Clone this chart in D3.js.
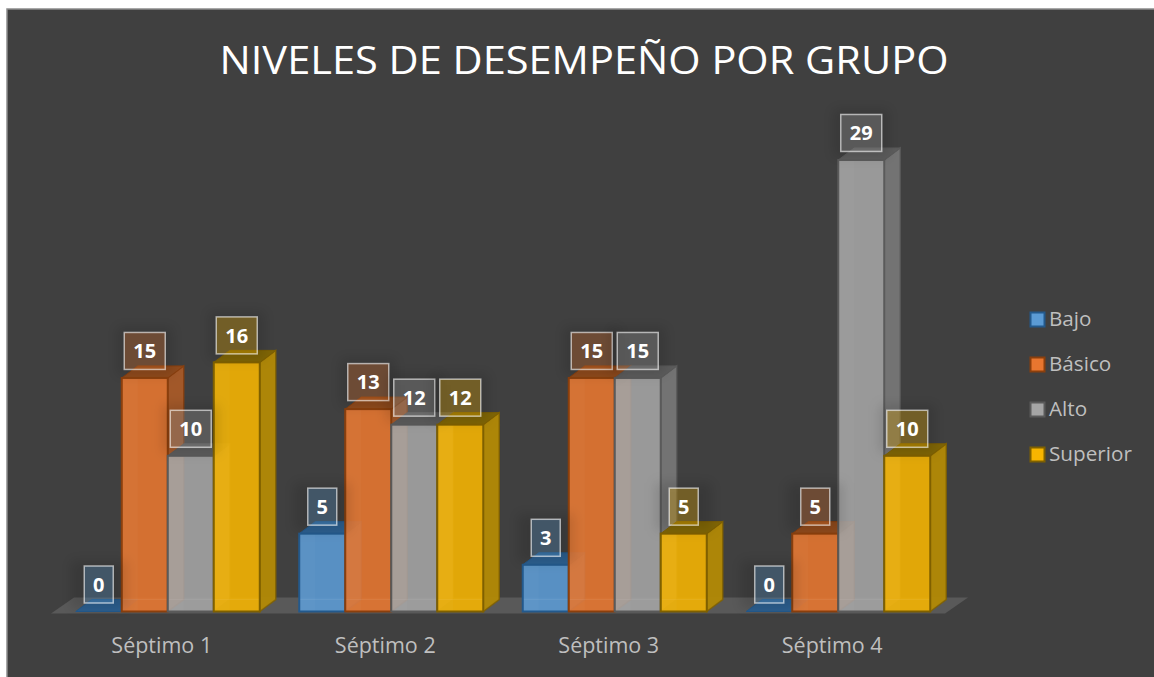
<!DOCTYPE html>
<html>
<head>
<meta charset="utf-8">
<script src="https://cdn.jsdelivr.net/npm/d3@7"></script>
<style>
  html, body { margin: 0; padding: 0; background: #fff; }
  svg { display: block; font-family: "Open Sans", sans-serif; }
</style>
</head>
<body>
<div id="chart"></div>
<script>
// Chart values
var categories = ["Séptimo 1", "Séptimo 2", "Séptimo 3", "Séptimo 4"];
var seriesNames = ["Bajo", "Básico", "Alto", "Superior"];
var bajo = [0, 5, 3, 0];
var basico = [15, 13, 15, 5];
var alto = [10, 12, 15, 29];
var superior = [16, 12, 5, 10];
var seriesValues = [bajo, basico, alto, superior];

var frontColors = ["#5b9bd5", "#e8762f", "#a5a5a5", "#f7b500"];
var sideColors = ["#3f72a0", "#a85a28", "#767676", "#b38a05"];
var topColors = ["#2c5f8f", "#8f4a1c", "#5c5c5c", "#7f6505"];
var edgeColors = ["#23598c", "#8a3f0d", "#5a5a5a", "#7f6000"];

var svgWidth = 1154;
var svgHeight = 677;
var baseline = 611.5;
var depthX = 16;
var depthY = 12;

var svg = d3
  .select("#chart")
  .append("svg")
  .attr("width", svgWidth)
  .attr("height", svgHeight);

var defs = svg.append("defs");
defs
  .append("filter")
  .attr("id", "soft")
  .attr("x", "-40%")
  .attr("y", "-40%")
  .attr("width", "180%")
  .attr("height", "180%")
  .append("feGaussianBlur")
  .attr("stdDeviation", 6);

// Background with the thin border
svg
  .append("rect")
  .attr("x", 7)
  .attr("y", 9)
  .attr("width", svgWidth)
  .attr("height", svgHeight)
  .attr("fill", "#404040")
  .attr("stroke", "#8c8c8c")
  .attr("stroke-width", 1.5);

svg
  .append("text")
  .attr("x", 584)
  .attr("y", 74)
  .attr("text-anchor", "middle")
  .attr("fill", "#ffffff")
  .attr("textLength", 729)
  .attr("lengthAdjust", "spacingAndGlyphs")
  .style("font-size", "39px")
  .text("NIVELES DE DESEMPEÑO POR GRUPO");

// Scales
var x0 = d3
  .scaleBand()
  .domain(categories)
  .range([56, 950])
  .paddingInner(0.1767)
  .paddingOuter(0.0884);

var x1 = d3
  .scaleBand()
  .domain(seriesNames)
  .range([0, x0.bandwidth()]);

var y = d3
  .scaleLinear()
  .domain([0, 30])
  .range([baseline, baseline - 30 * 15.57]);

// Floor of the 3D plot
var floorLeft = x0.range()[0];
var floorRight = x0.range()[1];
svg
  .append("polygon")
  .attr(
    "points",
    [
      [floorLeft - 5, baseline + 2],
      [floorRight - 5, baseline + 2],
      [floorRight + depthX + 2, baseline - 14],
      [floorLeft + depthX + 2, baseline - 14],
    ].join(" ")
  )
  .attr("fill", "#595959");

// Bars
var bars = [];
categories.forEach(function (cat, i) {
  seriesNames.forEach(function (name, s) {
    bars.push({ cat: cat, name: name, s: s, value: seriesValues[s][i] });
  });
});

var barGroup = svg
  .selectAll("g.bar")
  .data(bars)
  .enter()
  .append("g")
  .attr("class", "bar");

barGroup.each(function (d) {
  var g = d3.select(this);
  var left = x0(d.cat) + x1(d.name);
  var right = left + x1.bandwidth();
  var top = y(d.value);

  // right side face
  g.append("polygon")
    .attr(
      "points",
      [
        [right, baseline],
        [right + depthX, baseline - depthY],
        [right + depthX, top - depthY],
        [right, top],
      ].join(" ")
    )
    .attr("fill", sideColors[d.s])
    .attr("fill-opacity", d.value === 0 ? 0 : 0.95)
    .attr("stroke", edgeColors[d.s])
    .attr("stroke-opacity", d.value === 0 ? 0 : 0.8)
    .attr("stroke-width", 1.5);

  // top face
  g.append("polygon")
    .attr(
      "points",
      [
        [left, top],
        [right, top],
        [right + depthX, top - depthY],
        [left + depthX, top - depthY],
      ].join(" ")
    )
    .attr("fill", topColors[d.s])
    .attr("stroke", edgeColors[d.s])
    .attr("stroke-width", 1);

  if (d.value > 0) {
    // front face
    g.append("rect")
      .attr("x", left)
      .attr("y", top)
      .attr("width", right - left)
      .attr("height", baseline - top)
      .attr("fill", frontColors[d.s])
      .attr("fill-opacity", 0.88)
      .attr("stroke", edgeColors[d.s])
      .attr("stroke-width", 2);

    // the inner left strip seen through the transparent front
    g.append("rect")
      .attr("x", left + 1)
      .attr("y", top + 1)
      .attr("width", depthX - 1)
      .attr("height", baseline - top - 2)
      .attr("fill", "#ffffff")
      .attr("fill-opacity", 0.025);

    // back floor edge seen through the front
    g.append("line")
      .attr("x1", left + 1)
      .attr("x2", right - 1)
      .attr("y1", baseline - depthY)
      .attr("y2", baseline - depthY)
      .attr("stroke", "#ffffff")
      .attr("stroke-opacity", 0.06);
  }
});

// Data labels
var labelGroup = svg
  .selectAll("g.label")
  .data(bars)
  .enter()
  .append("g")
  .attr("class", "label")
  .attr("transform", function (d) {
    return `translate(${x0(d.cat) + x1(d.name) + x1.bandwidth() / 2}, ${y(d.value) - 27})`;
  });

labelGroup
  .append("rect")
  .attr("x", -28)
  .attr("y", -24)
  .attr("width", 56)
  .attr("height", 48)
  .attr("fill", "#000000")
  .attr("fill-opacity", 0.12)
  .attr("filter", "url(#soft)");

labelGroup
  .append("rect")
  .attr("x", function (d) {
    return d.value < 10 ? -14.5 : -20.5;
  })
  .attr("y", -18.5)
  .attr("width", function (d) {
    return d.value < 10 ? 29 : 41;
  })
  .attr("height", 37)
  .attr("fill", function (d) {
    return frontColors[d.s];
  })
  .attr("fill-opacity", 0.3)
  .attr("stroke", "#ffffff")
  .attr("stroke-opacity", 0.6)
  .attr("stroke-width", 1.5);

labelGroup
  .append("text")
  .attr("text-anchor", "middle")
  .attr("dy", "0.36em")
  .attr("fill", "#ffffff")
  .style("font-size", "20px")
  .style("font-weight", "700")
  .text(function (d) {
    return d.value;
  });

// Category axis, nudged left because it sits under the front edge of the floor
var xAxis = svg
  .append("g")
  .attr("transform", `translate(-6, ${baseline + 26})`)
  .call(d3.axisBottom(x0).tickSize(0).tickPadding(0));

xAxis.select(".domain").remove();
xAxis
  .selectAll("text")
  .attr("fill", "#bfbfbf")
  .style("font-family", '"Open Sans", sans-serif')
  .style("font-size", "21.5px");

// Legend
var legend = svg
  .selectAll("g.legend")
  .data(seriesNames)
  .enter()
  .append("g")
  .attr("class", "legend")
  .attr("transform", function (d, i) {
    return `translate(1030, ${319 + i * 45})`;
  });

legend
  .append("rect")
  .attr("x", 0.5)
  .attr("y", -6.5)
  .attr("width", 14)
  .attr("height", 14)
  .attr("fill", function (d, i) {
    return frontColors[i];
  })
  .attr("stroke", function (d, i) {
    return edgeColors[i];
  })
  .attr("stroke-width", 2);

legend
  .append("text")
  .attr("x", 19)
  .attr("dy", "0.36em")
  .attr("fill", "#bfbfbf")
  .style("font-size", "20.7px")
  .text(function (d) {
    return d;
  });
</script>
</body>
</html>
